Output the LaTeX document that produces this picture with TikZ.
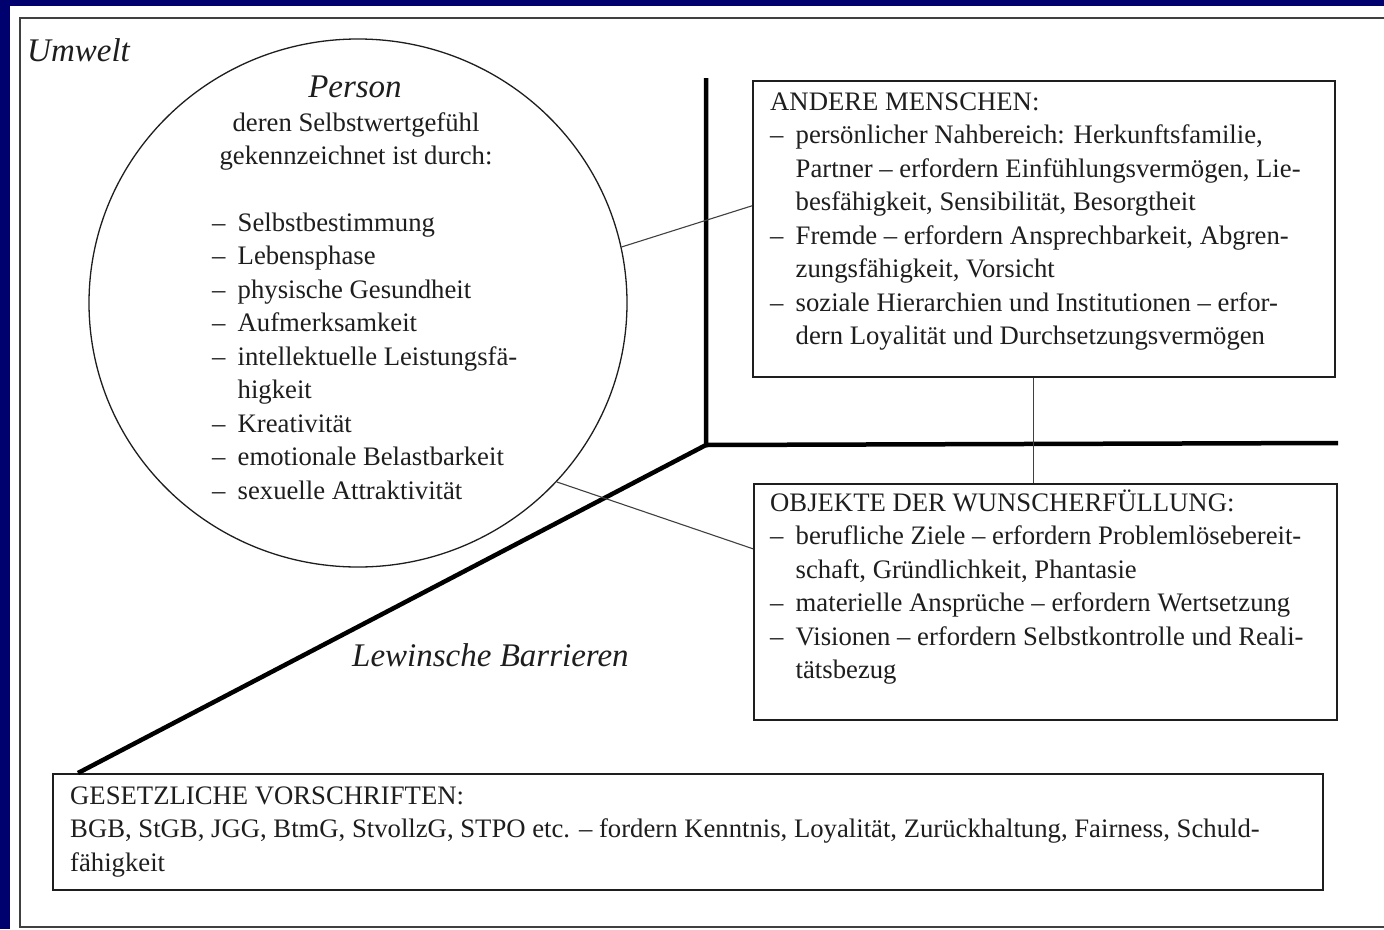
\documentclass[tikz,border=0pt]{standalone}
\usepackage{fontspec}
\setmainfont{Liberation Serif}
\usetikzlibrary{positioning,shapes.geometric}
\definecolor{framenavy}{RGB}{0,0,110}
\definecolor{inkcolor}{RGB}{30,30,30}
\newcommand{\bodyfont}{\fontsize{26.7}{33.5}\selectfont}
\newcommand{\headfont}{\fontsize{33}{38}\selectfont\itshape}
\newcommand{\itemdash}{\makebox[25.5pt][l]{–}}
\newcommand{\itemcont}{\hspace*{25.5pt}}
\tikzset{
	box/.style={
		rectangle,
		draw=inkcolor,
		line width=1.6pt,
		inner sep=0pt,
		anchor=north west
	},
	boxtext/.style={
		align=left,
		inner sep=0pt,
		text=inkcolor,
		font=\bodyfont,
		anchor=north west
	},
	head/.style={
		inner sep=0pt,
		text=inkcolor,
		font=\headfont
	},
	personcircle/.style={
		ellipse,
		draw=inkcolor,
		line width=1.3pt,
		minimum width=538pt,
		minimum height=528pt,
		inner sep=0pt
	},
	barrier/.style={
		draw=black,
		line width=4.5pt
	},
	link/.style={
		draw=inkcolor!85,
		line width=1.1pt
	},
	frame/.style={
		draw=inkcolor!85,
		line width=1.8pt
	},
}

\begin{document}
\begin{tikzpicture}[x=1pt,y=-1pt]
	\useasboundingbox (0,0) rectangle (1384,929);
	\fill[framenavy] (0,0) rectangle (1384,929);
	\fill[white] (10,6) rectangle (1384,929);
	\draw[frame] (1384,18) -- (20,18) -- (20,927) -- (1384,927);
	\node[head,anchor=base west] (umwelt) at (27,61) {Umwelt};
	% Person
	\node[personcircle] (person) at (358,303) {};
	\node[head,anchor=base] (personTitle) at (355,97) {Person};
	\node[boxtext,align=center,anchor=north] (personIntro) at (356,107.5)
		{\strut deren Selbstwertgefühl\\gekennzeichnet ist durch:};
	\node[boxtext] (personList) at (212,207.5) {\strut\itemdash Selbstbestimmung\\
		\itemdash Lebensphase\\
		\itemdash physische Gesundheit\\
		\itemdash Aufmerksamkeit\\
		\itemdash intellektuelle Leistungsfä-\\
		\itemcont higkeit\\
		\itemdash Kreativität\\
		\itemdash emotionale Belastbarkeit\\
		\itemdash sexuelle Attraktivität};
	% Umwelt boxes
	\node[box,minimum width=582,minimum height=296] (andere) at (752,80) {};
	\node[boxtext] (andereText) at ([xshift=18pt,yshift=-6.5pt]andere.north west)
		{\strut ANDERE MENSCHEN:\\
		\itemdash persönlicher Nahbereich: Herkunftsfamilie,\\
		\itemcont Partner – erfordern Einfühlungsvermögen, Lie-\\
		\itemcont besfähigkeit, Sensibilität, Besorgtheit\\
		\itemdash Fremde – erfordern Ansprechbarkeit, Abgren-\\
		\itemcont zungsfähigkeit, Vorsicht\\
		\itemdash soziale Hierarchien und Institutionen – erfor-\\
		\itemcont dern Loyalität und Durchsetzungsvermögen};
	\node[box,minimum width=583,minimum height=236] (objekte) at (753,483) {};
	\node[boxtext] (objekteText) at ([xshift=17pt,yshift=-4.5pt]objekte.north west)
		{\strut OBJEKTE DER WUNSCHERFÜLLUNG:\\
		\itemdash berufliche Ziele – erfordern Problemlösebereit-\\
		\itemcont schaft, Gründlichkeit, Phantasie\\
		\itemdash materielle Ansprüche – erfordern Wertsetzung\\
		\itemdash Visionen – erfordern Selbstkontrolle und Reali-\\
		\itemcont tätsbezug};
	\node[box,minimum width=1270,minimum height=116] (gesetz) at (52,773) {};
	\node[boxtext] (gesetzText) at ([xshift=18pt,yshift=-7.5pt]gesetz.north west)
		{\strut GESETZLICHE VORSCHRIFTEN:\\
		BGB, StGB, JGG, BtmG, StvollzG, STPO etc. – fordern Kenntnis, Loyalität, Zurückhaltung, Fairness, Schuld-\\
		fähigkeit};
	% Lewinsche Barrieren
	\coordinate (corner) at (706,445);
	\coordinate (barTop) at (706,78);
	\coordinate (barRight) at (1338,443);
	\coordinate (barLeft) at (78,773);
	\draw[barrier] (barTop) -- (corner) -- (barLeft);
	\draw[barrier] (corner) -- (barRight);
	\node[head,anchor=base west] (barrierLabel) at (352,666) {Lewinsche Barrieren};
	\draw[link] (person.12) -- ([yshift=23pt]andere.west);
	\draw[link] (person.-42) -- ([yshift=53pt]objekte.west);
	\draw[link] ([xshift=-10pt]andere.south) -- ([xshift=-11.5pt]objekte.north);
\end{tikzpicture}
\end{document}
